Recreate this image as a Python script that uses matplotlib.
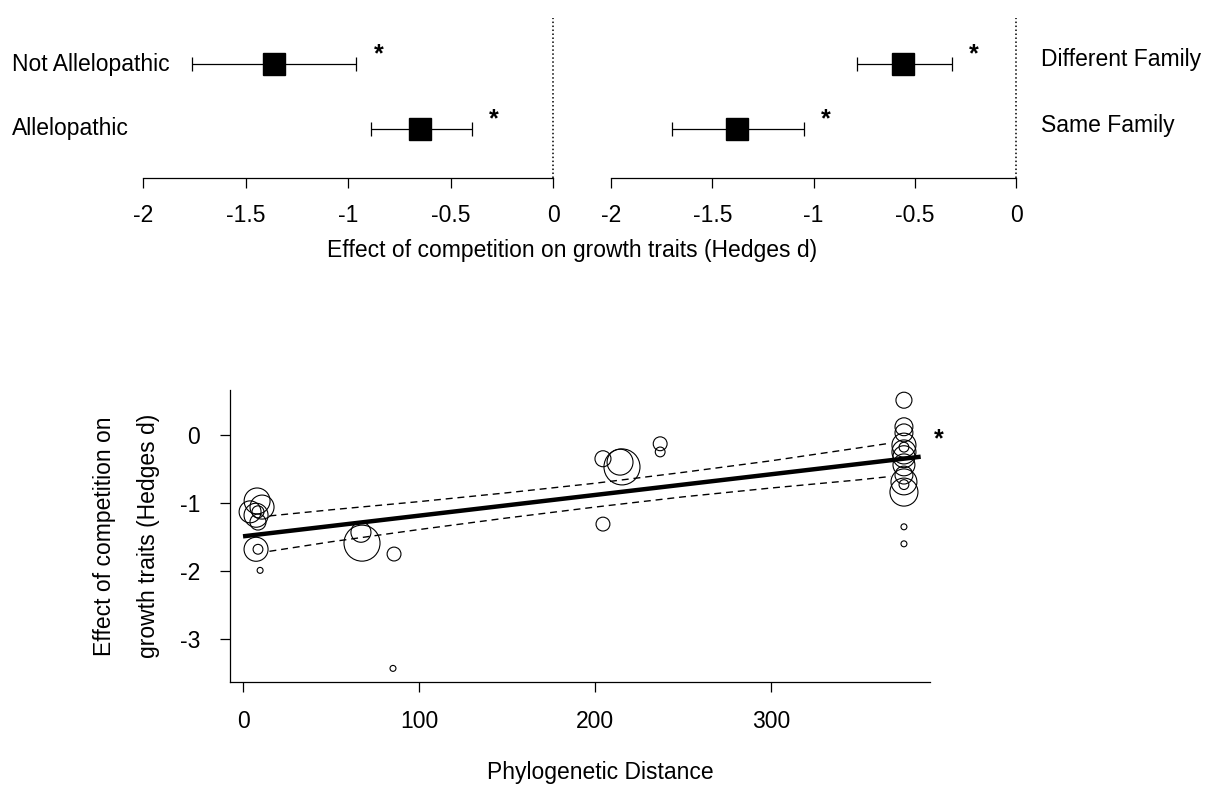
import numpy as np
import matplotlib
matplotlib.use('Agg')
import matplotlib.pyplot as plt
from matplotlib.transforms import blended_transform_factory

plt.rcParams['font.family'] = ['Liberation Sans', 'DejaVu Sans']

# top panels: mean effect and 95% CI
allelo_labels = ["Not Allelopathic", "Allelopathic"]
allelo_mean = [-1.36, -0.65]
allelo_lo = [-1.76, -0.89]
allelo_hi = [-0.96, -0.395]

family_labels = ["Different Family", "Same Family"]
family_mean = [-0.56, -1.38]
family_lo = [-0.785, -1.70]
family_hi = [-0.316, -1.047]

# bottom panel: meta-regression on phylogenetic distance
dist = [8, 10.8, 4, 7.4, 8.5, 8.5, 7.4, 8.5, 9.7,
        67.6, 67, 85.8, 85.2,
        204.5, 215.3, 214.2, 237, 237, 204.5,
        375.5, 375.5, 375.5, 375.5, 375.5, 375.5, 375.5, 375.5,
        375.5, 375.5, 375.5, 375.5, 375.5, 375.5]
effect = [-0.97, -1.06, -1.13, -1.18, -1.13, -1.28, -1.68, -1.68, -1.99,
          -1.59, -1.43, -1.75, -3.43,
          -0.35, -0.47, -0.40, -0.13, -0.25, -1.31,
          0.51, 0.12, 0.03, -0.15, -0.25, -0.32, -0.44, -0.59,
          -0.69, -0.73, -0.84, -1.35, -1.60, -0.18]
weight = [42, 36, 30, 36, 9, 16, 36, 6, 2.2,
          81, 25, 12, 2.2,
          16, 81, 42, 12, 6, 12,
          16, 20, 20, 36, 36, 30, 30, 20,
          42, 6, 49, 2.2, 2.2, 6]

fit_x = [0, 385]
fit_y = [-1.49, -0.32]
ci_x = [15, 50, 100, 150, 200, 250, 300, 350, 368]
ci_up = [-1.19, -1.10, -0.98, -0.85, -0.71, -0.55, -0.38, -0.19, -0.12]
ci_lo = [-1.71, -1.57, -1.39, -1.22, -1.06, -0.91, -0.78, -0.66, -0.61]

FS = 16.5

fig = plt.figure(figsize=(12.14, 7.89), dpi=100)


def forest(ax, mean, lo, hi):
    ypos = [2, 1]
    m = np.array(mean)
    err = [m - np.array(lo), np.array(hi) - m]
    ax.errorbar(mean, ypos, xerr=err, fmt='s', color='black', ms=16,
                elinewidth=0.9, capsize=5, capthick=0.9)
    for h, y in zip(hi, ypos):
        ax.annotate('*', (h, y), xytext=(16, -2), textcoords='offset points',
                    fontsize=18, fontweight='bold', ha='center', va='bottom')
    ax.axvline(0, color='black', ls=(0, (1, 1.6)), lw=1.1, clip_on=False)
    ax.set_xlim(-2, 0)
    ax.set_ylim(0.246, 2.708)
    for s in ['top', 'right', 'left']:
        ax.spines[s].set_visible(False)
    ax.spines['bottom'].set_linewidth(0.9)
    ax.set_yticks([])
    ax.set_xticks([-2, -1.5, -1, -0.5, 0])
    ax.set_xticklabels(['-2', '-1.5', '-1', '-0.5', '0'])
    ax.tick_params(axis='x', direction='out', length=7.5, width=0.9,
                   labelsize=FS, pad=11)


ax1 = fig.add_axes([143 / 1214, 1 - 178 / 789, 410 / 1214, 160 / 789])
forest(ax1, allelo_mean, allelo_lo, allelo_hi)
tr1 = blended_transform_factory(fig.transFigure, ax1.transData)
for lab, y in zip(allelo_labels, [2, 1]):
    ax1.text(12 / 1214, y, lab, transform=tr1, fontsize=FS, va='center', ha='left')

ax2 = fig.add_axes([611 / 1214, 1 - 178 / 789, 405 / 1214, 160 / 789])
forest(ax2, family_mean, family_lo, family_hi)
tr2 = blended_transform_factory(fig.transFigure, ax2.transData)
for lab, y in zip(family_labels, [2.07, 1.05]):
    ax2.text(1041 / 1214, y, lab, transform=tr2, fontsize=FS, va='center', ha='left')

fig.text(572 / 1214, 1 - 250 / 789, "Effect of competition on growth traits (Hedges d)",
         fontsize=FS, ha='center', va='center')

# bottom panel
ax3 = fig.add_axes([230 / 1214, 1 - 682 / 789, 700 / 1214, 292 / 789])
sizes = np.array(weight) * 8.3
ax3.scatter(dist, effect, s=sizes, facecolors='none', edgecolors='black', linewidths=0.8)
ax3.plot(ci_x, ci_up, color='black', lw=1.0, ls=(0, (5, 3.5)))
ax3.plot(ci_x, ci_lo, color='black', lw=1.0, ls=(0, (5, 3.5)))
ax3.plot(fit_x, fit_y, color='black', lw=3.2, solid_capstyle='butt')
ax3.text(395, -0.07, '*', fontsize=18, fontweight='bold', ha='center', va='center')
ax3.set_xlim(-7.4, 390.3)
ax3.set_ylim(-3.63, 0.66)
ax3.spines['top'].set_visible(False)
ax3.spines['right'].set_visible(False)
ax3.spines['left'].set_linewidth(0.9)
ax3.spines['bottom'].set_linewidth(0.9)
ax3.set_xticks([0, 100, 200, 300])
ax3.set_yticks([0, -1, -2, -3])
ax3.set_yticklabels(['0', '-1', '-2', '-3'])
ax3.tick_params(direction='out', length=7.5, width=0.9, labelsize=FS)
ax3.tick_params(axis='x', pad=13)
ax3.tick_params(axis='y', pad=14)

fig.text(105 / 1214, 1 - 536 / 789, "Effect of competition on", rotation=90,
         fontsize=FS, ha='center', va='center')
fig.text(148 / 1214, 1 - 536 / 789, "growth traits (Hedges d)", rotation=90,
         fontsize=FS, ha='center', va='center')
fig.text(600 / 1214, 1 - 772 / 789, "Phylogenetic Distance", fontsize=FS,
         ha='center', va='center')

fig.savefig('out.png', dpi=100, facecolor='white')
